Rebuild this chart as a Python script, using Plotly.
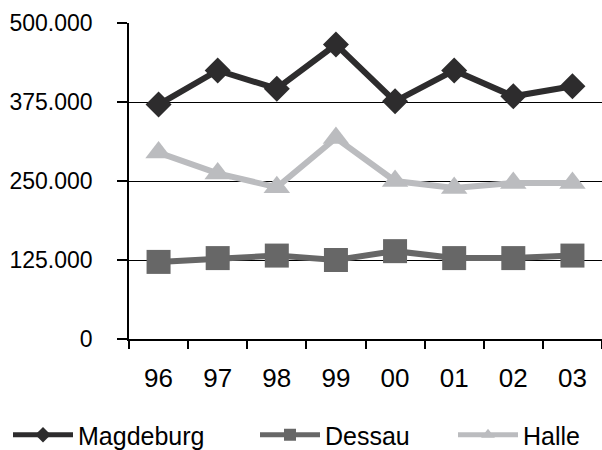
import plotly.graph_objects as go

years = ["96", "97", "98", "99", "00", "01", "02", "03"]
magdeburg = [371000, 425000, 396000, 466000, 376000, 425000, 384000, 400000]
dessau = [122000, 128000, 132000, 125000, 139000, 128000, 128000, 132000]
halle = [295000, 262000, 240000, 318000, 250000, 239000, 247000, 247000]

y_ticks = [0, 125000, 250000, 375000, 500000]
y_tick_labels = ["0", "125.000", "250.000", "375.000", "500.000"]

font = "Liberation Sans, Arial, sans-serif"

# name, values, colour, marker symbol, marker size, legend id, legend x (container px)
series = [
    ("Magdeburg", magdeburg, "#2d2c2d", "diamond", 20, "legend", 8),
    ("Dessau", dessau, "#676767", "square", 24, "legend2", 255),
    ("Halle", halle, "#bbbcbf", "triangle-up", 23, "legend3", 453),
]

fig = go.Figure()
legends = {}
for name, vals, color, symbol, size, leg, lx in series:
    fig.add_trace(go.Scatter(
        x=years, y=vals, name=name, mode="lines+markers",
        line=dict(color=color, width=6),
        marker=dict(symbol=symbol, size=size, color=color, line=dict(width=0)),
        legend=leg,
    ))
    legends[leg] = dict(
        orientation="h", xref="container", yref="container",
        x=lx / 602, xanchor="left", y=(450 - 435) / 450, yanchor="middle",
        font=dict(family=font, size=25, color="black"),
        itemwidth=60, itemsizing="constant",
        bgcolor="rgba(0,0,0,0)", borderwidth=0,
    )

fig.update_layout(
    width=602, height=450,
    margin=dict(l=129, r=0, t=23, b=111),
    plot_bgcolor="white", paper_bgcolor="white",
    font=dict(family=font, size=22, color="black"),
    showlegend=True,
    xaxis=dict(
        type="category", tickson="boundaries",
        showline=True, linecolor="black", linewidth=1.5,
        ticks="outside", ticklen=8, tickcolor="black", tickwidth=1.5,
        showgrid=False, zeroline=False,
        tickfont=dict(size=26),
        ticklabelstandoff=15,
        range=[-0.5, 7.5],
    ),
    yaxis=dict(
        range=[0, 500000],
        tickvals=y_ticks, ticktext=y_tick_labels,
        showline=True, linecolor="black", linewidth=1.5,
        ticks="outside", ticklen=10, tickcolor="black", tickwidth=1.5,
        showgrid=True, gridcolor="black", gridwidth=1.3,
        zeroline=False,
        tickfont=dict(size=23),
        ticklabelstandoff=20,
    ),
    **legends,
)

fig.write_html("out.html")
